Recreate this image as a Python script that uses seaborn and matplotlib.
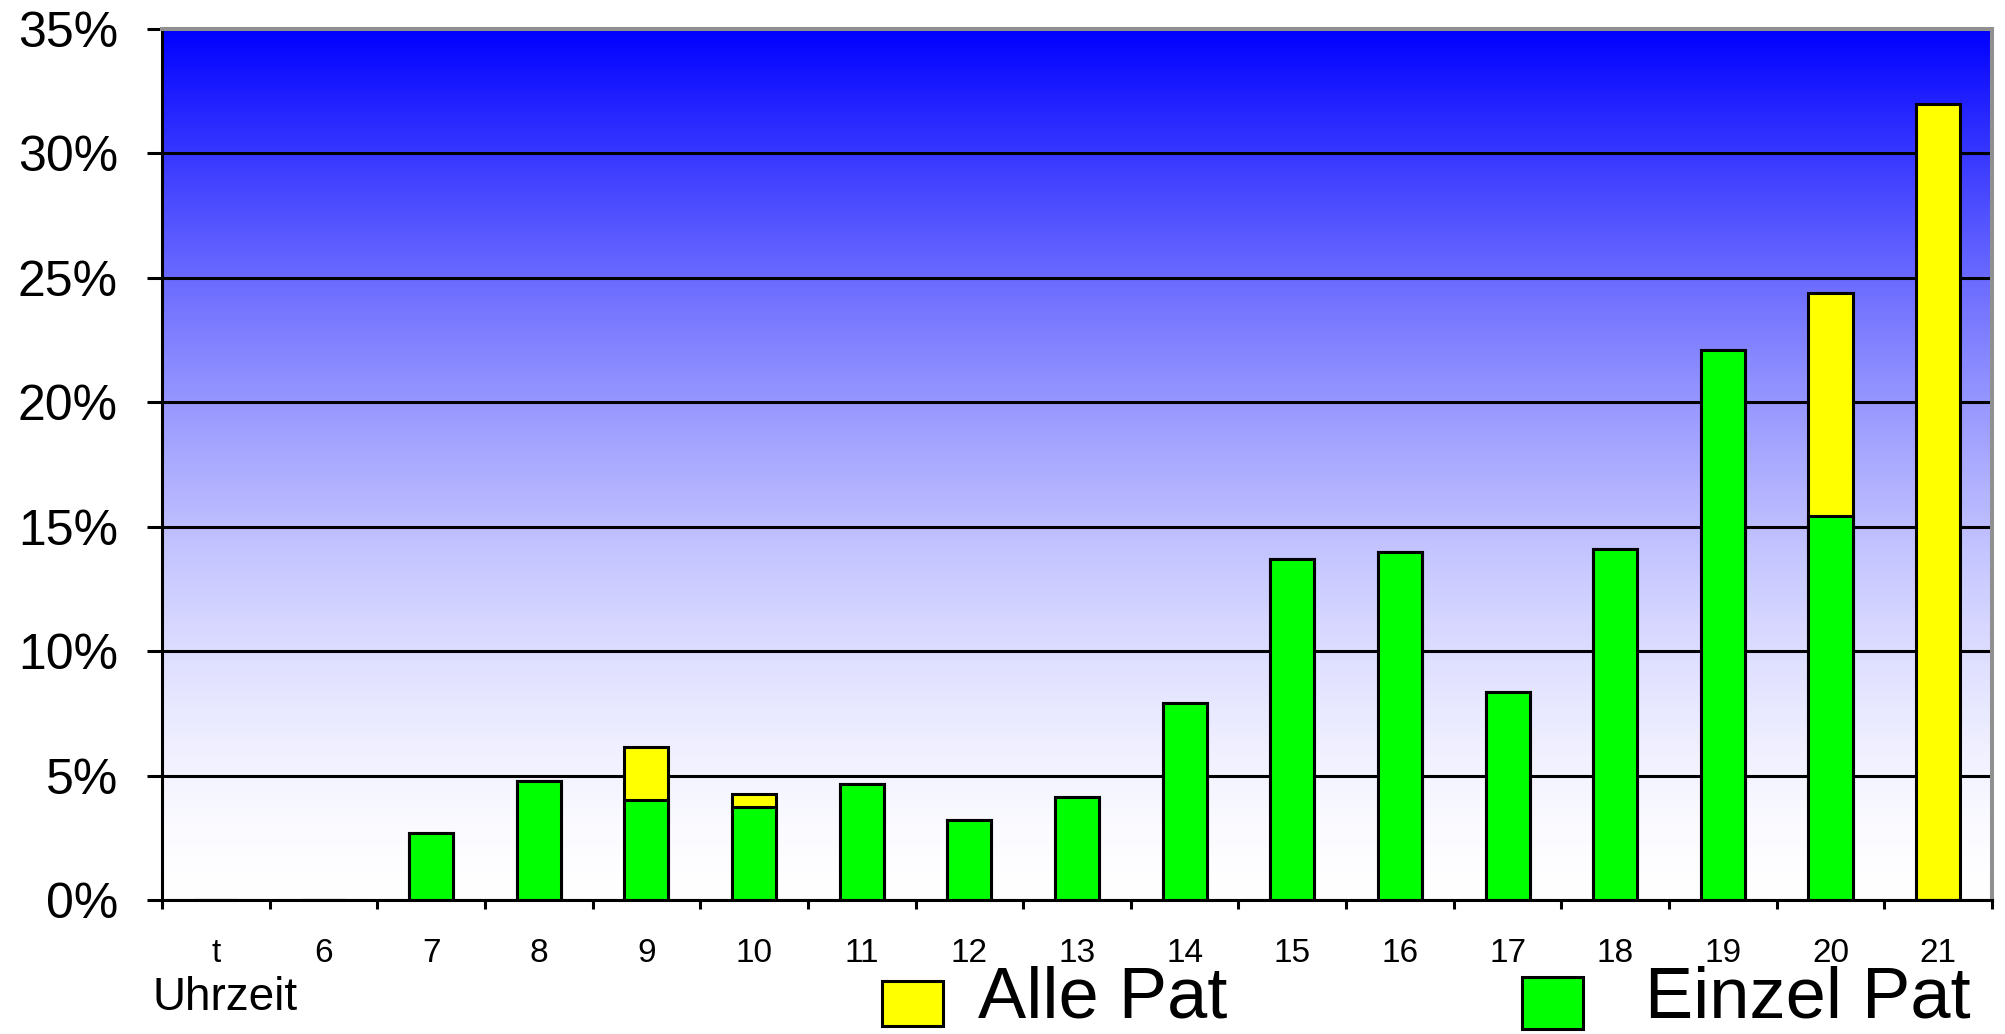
import numpy as np
import pandas as pd
import matplotlib
matplotlib.use("Agg")
import matplotlib.pyplot as plt
import seaborn as sns
from matplotlib.patches import Rectangle

# Share of patients per hour of day (percent)
hours = ["t", "6", "7", "8", "9", "10", "11", "12", "13", "14",
         "15", "16", "17", "18", "19", "20", "21"]
einzel_pat = [0, 0, 2.68, 4.79, 4.02, 3.75, 4.67, 3.23, 4.15, 7.90,
              13.71, 13.97, 8.37, 14.12, 22.10, 15.43, 0]
alle_pat = [0, 0, 0, 0, 2.12, 0.51, 0, 0, 0, 0,
            0, 0, 0, 0, 0, 8.95, 31.97]
y_ticks = [0, 5, 10, 15, 20, 25, 30, 35]
y_labels = [f"{v}%" for v in y_ticks]
legend_labels = ["Alle Pat", "Einzel Pat"]
x_title = "Uhrzeit"

sns.set_style("white")
plt.rcParams["font.family"] = ["Liberation Sans", "DejaVu Sans"]
plt.rcParams["text.color"] = "black"
plt.rcParams["xtick.color"] = "black"
plt.rcParams["ytick.color"] = "black"
plt.rcParams["xtick.labelcolor"] = "black"
plt.rcParams["ytick.labelcolor"] = "black"

df = pd.DataFrame({"hour": hours, "einzel": einzel_pat, "alle": alle_pat})
df["total"] = df["einzel"] + df["alle"]

W, H = 2005, 1034
fig = plt.figure(figsize=(W / 100, H / 100), dpi=100)
ax = fig.add_axes([162 / W, 1 - 900 / H, 1830 / W, 871 / H])

# vertical blue-to-white background
n = 400
f = np.linspace(0, 1, n)[:, None]
c = 1 - (1 - f) ** 1.6
grad = np.dstack([c, c, np.ones_like(c)])
ax.imshow(grad, extent=(-0.5, len(hours) - 0.5, 0, 35), aspect="auto",
          origin="upper", zorder=-1, interpolation="bilinear")

bar_kw = dict(order=hours, width=0.41, saturation=1, errorbar=None,
              edgecolor="black", linewidth=2.2, ax=ax)
sns.barplot(data=df, x="hour", y="total", color="#ffff00", **bar_kw)
sns.barplot(data=df, x="hour", y="einzel", color="#00ff00", **bar_kw)

ax.set_xlim(-0.5, len(hours) - 0.5)
ax.set_ylim(0, 35)
ax.set_xlabel("")
ax.set_ylabel("")

ax.set_axisbelow(True)
ax.yaxis.grid(True, color="black", linewidth=2.2)
ax.xaxis.grid(False)

ax.set_yticks(y_ticks)
ax.set_yticklabels(y_labels)
ax.set_xticks(range(len(hours)))
ax.set_xticklabels(hours)
ax.set_xticks(np.arange(-0.5, len(hours), 1), minor=True)
ax.tick_params(axis="y", which="major", length=10.8, width=2.2, color="black",
               pad=21, labelsize=36, left=True, direction="out",
               labelcolor="black")
ax.tick_params(axis="x", which="major", length=0, pad=27, labelsize=24,
               labelcolor="black")
ax.tick_params(axis="x", which="minor", length=6.5, width=2.2, color="black",
               bottom=True, direction="out")

for side in ["left", "bottom"]:
    ax.spines[side].set_color("black")
    ax.spines[side].set_linewidth(2.2)
for side in ["top", "right"]:
    ax.spines[side].set_color("#909090")
    ax.spines[side].set_linewidth(2.9)

fig.text(152 / W, 1 - 1010 / H, x_title, fontsize=33, ha="left",
         va="baseline", color="black")

# legend drawn as boxes and labels along the bottom edge
legend_items = [
    ((882, 981, 943, 1026), "#ffff00", 978, legend_labels[0]),
    ((1522, 977, 1583, 1029), "#00ff00", 1645, legend_labels[1]),
]
for (x0, y0, x1, y1), col, tx, lab in legend_items:
    fig.add_artist(Rectangle((x0 / W, 1 - y1 / H), (x1 - x0) / W, (y1 - y0) / H,
                             transform=fig.transFigure, facecolor=col,
                             edgecolor="black", linewidth=2.2))
    fig.text(tx / W, 1 / H, lab, fontsize=52, ha="left", va="bottom",
             color="black")

fig.savefig("out.png", dpi=100)
